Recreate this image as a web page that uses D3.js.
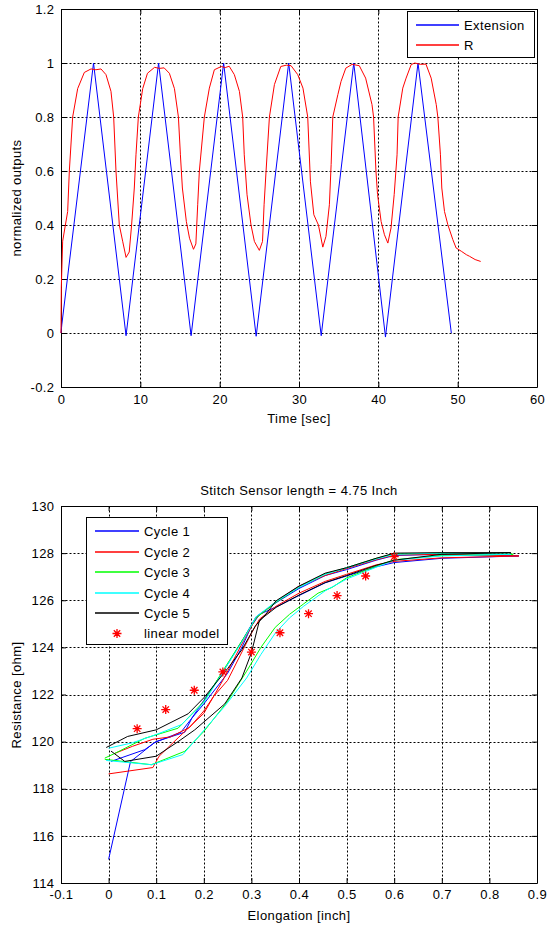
<!DOCTYPE html>
<html><head><meta charset="utf-8">
<script src="https://cdn.jsdelivr.net/npm/d3@7"></script>
<style>
body{margin:0;background:#fff;}
svg text{font-family:"Liberation Sans",Arial,Helvetica,sans-serif;font-size:13px;letter-spacing:0.4px;fill:#000;}
</style></head><body>
<svg id="c" width="548" height="926"></svg>
<script>
// ---------- DATA ----------
const timeTicks = [0,10,20,30,40,50,60];
const timeTickLabels = ["0","10","20","30","40","50","60"];
const normTicks = [-0.2,0,0.2,0.4,0.6,0.8,1,1.2];
const normTickLabels = ["-0.2","0","0.2","0.4","0.6","0.8","1","1.2"];
const extension = [[0,0],[0.1,0.03],[4.1,1],[8.2,-0.01],[12.3,1],[16.4,-0.01],[20.5,1],[24.6,-0.012],[28.7,1],[32.8,-0.01],[36.9,1],[40.9,-0.015],[45.0,1],[49.2,0]];
const resistanceNorm = [[0,0],[0.04,0.17],[0.21,0.34],[0.84,0.45],[1.05,0.6],[1.47,0.8],[2.1,0.905],[2.94,0.965],[3.78,0.978],[4.4,0.975],[5.04,0.978],[5.67,0.957],[6.3,0.895],[6.64,0.8],[6.93,0.6],[7.35,0.4],[7.77,0.34],[8.2,0.28],[8.6,0.3],[8.9,0.4],[9.24,0.537],[9.45,0.66],[9.75,0.8],[10.3,0.905],[10.9,0.962],[11.8,0.984],[12.4,0.98],[13.0,0.982],[13.66,0.962],[14.3,0.905],[14.8,0.8],[15.05,0.66],[15.3,0.537],[15.8,0.413],[16.2,0.351],[16.7,0.31],[17.0,0.33],[17.23,0.475],[17.44,0.6],[18.07,0.8],[18.7,0.907],[19.33,0.975],[20.2,0.987],[20.7,0.983],[21.2,0.988],[21.85,0.957],[22.49,0.895],[22.9,0.8],[23.1,0.66],[23.45,0.512],[23.95,0.4],[24.38,0.339],[25.0,0.306],[25.4,0.339],[25.6,0.475],[25.85,0.6],[26.27,0.8],[26.9,0.92],[27.7,0.987],[28.4,0.992],[29.0,0.99],[29.84,0.957],[30.5,0.907],[31.1,0.8],[31.44,0.56],[31.87,0.438],[32.45,0.4],[33.0,0.318],[33.4,0.358],[33.83,0.475],[34.05,0.624],[34.26,0.8],[34.9,0.883],[35.3,0.932],[35.9,0.981],[36.7,0.995],[37.6,0.99],[38.4,0.944],[39.2,0.846],[39.4,0.8],[39.7,0.6],[39.9,0.513],[40.35,0.413],[40.77,0.364],[41.2,0.333],[41.6,0.389],[42.0,0.513],[42.36,0.66],[42.5,0.8],[43.08,0.907],[43.5,0.944],[44.14,0.994],[44.6,1.0],[45.3,0.995],[46.0,0.996],[46.66,0.944],[47.3,0.846],[47.5,0.8],[47.83,0.66],[48.0,0.537],[48.34,0.45],[48.76,0.401],[49.39,0.346],[49.8,0.315],[50.5,0.302],[51.1,0.29],[51.5,0.284],[52.2,0.272],[52.9,0.265]];
const topSeriesNames = ["Extension","R"];
const topSeriesColors = ["#0000ff","#ff0000"];

const elongTicks = [-0.1,0,0.1,0.2,0.3,0.4,0.5,0.6,0.7,0.8,0.9];
const elongTickLabels = ["-0.1","0","0.1","0.2","0.3","0.4","0.5","0.6","0.7","0.8","0.9"];
const resTicks = [114,116,118,120,122,124,126,128,130];
const resTickLabels = ["114","116","118","120","122","124","126","128","130"];
const cycle1 = [[0,115.0],[0.046,119.15],[0.097,119.97],[0.152,120.4],[0.175,121.0],[0.2,121.75],[0.24,122.95],[0.284,124.4],[0.31,125.3],[0.352,125.9],[0.4,126.5],[0.455,127.05],[0.5,127.3],[0.562,127.7],[0.6,127.9],[0.7,127.95],[0.862,127.88],[0.7,127.78],[0.6,127.6],[0.562,127.42],[0.5,127.03],[0.455,126.74],[0.4,126.2],[0.352,125.72],[0.317,125.4],[0.3,124.9],[0.28,124.0],[0.25,122.9],[0.2,121.6],[0.175,121.0],[0.16,120.4],[0.1,120.0],[0.076,119.66],[0.005,119.16]];
const cycle2 = [[0,118.63],[0.093,118.9],[0.106,119.38],[0.146,120.16],[0.2,121.2],[0.24,122.6],[0.284,124.3],[0.31,125.25],[0.352,125.95],[0.4,126.6],[0.455,127.05],[0.5,127.35],[0.562,127.72],[0.6,127.92],[0.7,127.95],[0.862,127.88],[0.7,127.8],[0.6,127.65],[0.562,127.5],[0.5,127.1],[0.455,126.8],[0.4,126.3],[0.352,125.75],[0.317,125.2],[0.3,124.6],[0.28,123.8],[0.25,122.6],[0.22,121.9],[0.2,121.3],[0.17,120.6],[0.13,120.2],[0.093,120.1],[0.05,119.8],[0.013,119.5]];
const cycle3 = [[-0.008,119.25],[0.09,119.02],[0.16,119.59],[0.2,120.43],[0.25,121.71],[0.29,122.99],[0.32,124.0],[0.35,124.85],[0.38,125.4],[0.41,125.85],[0.44,126.3],[0.47,126.55],[0.5,126.95],[0.562,127.45],[0.6,127.72],[0.7,127.9],[0.85,127.95],[0.7,128.0],[0.6,127.97],[0.562,127.78],[0.5,127.38],[0.455,127.12],[0.4,126.55],[0.352,125.92],[0.31,125.25],[0.284,124.4],[0.24,123.0],[0.2,121.7],[0.146,120.57],[0.076,120.14],[0.013,119.5],[-0.008,119.3]];
const cycle4 = [[-0.005,119.2],[0.09,119.02],[0.156,119.45],[0.207,120.64],[0.244,121.5],[0.29,122.7],[0.32,123.7],[0.35,124.6],[0.38,125.25],[0.41,125.75],[0.455,126.4],[0.5,126.9],[0.562,127.4],[0.6,127.7],[0.7,127.88],[0.845,127.95],[0.7,128.0],[0.6,127.95],[0.562,127.75],[0.5,127.38],[0.455,127.1],[0.4,126.55],[0.352,125.95],[0.31,125.3],[0.284,124.35],[0.24,122.95],[0.2,121.65],[0.153,120.72],[0.1,120.3],[0.05,119.95],[0.0,119.72]];
const cycle5 = [[-0.005,119.75],[0.04,120.22],[0.1,120.5],[0.167,121.18],[0.2,121.86],[0.25,123.1],[0.28,123.9],[0.308,124.9],[0.33,125.4],[0.352,125.98],[0.4,126.6],[0.455,127.15],[0.5,127.38],[0.562,127.78],[0.6,128.0],[0.7,128.02],[0.845,128.02],[0.7,127.95],[0.6,127.7],[0.562,127.48],[0.5,127.05],[0.455,126.75],[0.4,126.22],[0.352,125.7],[0.317,125.15],[0.3,123.77],[0.28,122.7],[0.244,121.6],[0.181,120.5],[0.146,120.0],[0.1,119.38],[0.034,119.16],[0.005,119.6]];
const cycleNames = ["Cycle 1","Cycle 2","Cycle 3","Cycle 4","Cycle 5"];
const cycleColors = ["#0000ff","#ff0000","#00ff00","#00ffff","#000000"];
const linearE = [0.06,0.12,0.18,0.24,0.30,0.36,0.42,0.48,0.54,0.60];
const linearR = [120.55,121.36,122.18,122.96,123.8,124.62,125.43,126.2,127.03,127.85];

// ---------- DRAW ----------
const svg = d3.select("#c");
const GRID_DASH = "2,2";

function panel(x, y, xTicks, xLabels, yTicks, yLabels, xPad) {
  const g = svg.append("g");
  const [x0, x1] = x.range(), [y0, y1] = y.range();
  const grid = g.append("g").attr("stroke", "#000").attr("stroke-width", 1).attr("stroke-dasharray", GRID_DASH).attr("fill","none");
  xTicks.slice(1, -1).forEach(v => {
    const px = Math.round(x(v)) + 0.5;
    grid.append("line").attr("x1", px).attr("x2", px).attr("y1", y1 + 0.5).attr("y2", y0 + 0.5);
  });
  yTicks.slice(1, -1).forEach(v => {
    const py = Math.round(y(v)) + 0.5;
    grid.append("line").attr("x1", x0 + 0.5).attr("x2", x1 + 0.5).attr("y1", py).attr("y2", py);
  });
  g.append("g").attr("transform", `translate(0,${y0})`)
    .call(d3.axisBottom(x).tickValues(xTicks).tickFormat((d, i) => xLabels[i]).tickSizeInner(-5).tickSizeOuter(0).tickPadding(xPad));
  g.append("g").attr("transform", `translate(0,${y1})`)
    .call(d3.axisTop(x).tickValues(xTicks).tickFormat("").tickSizeInner(-5).tickSizeOuter(0));
  g.append("g").attr("transform", `translate(${x0},0)`)
    .call(d3.axisLeft(y).tickValues(yTicks).tickFormat((d, i) => yLabels[i]).tickSizeInner(-5).tickSizeOuter(0).tickPadding(6.5));
  g.append("g").attr("transform", `translate(${x1},0)`)
    .call(d3.axisRight(y).tickValues(yTicks).tickFormat("").tickSizeInner(-5).tickSizeOuter(0));
  g.selectAll(".domain").attr("stroke", "#000");
  return g;
}

// Top panel
const xT = d3.scaleLinear([0, 60], [61, 537]);
const yT = d3.scaleLinear([-0.2, 1.2], [387, 9]);
panel(xT, yT, timeTicks, timeTickLabels, normTicks, normTickLabels, 8);
const lineT = d3.line().x(d => xT(d[0])).y(d => yT(d[1]));
[extension, resistanceNorm].forEach((s, i) => {
  svg.append("path").attr("d", lineT(s)).attr("fill", "none").attr("stroke", topSeriesColors[i]).attr("stroke-width", 1);
});
svg.append("text").attr("x", 299).attr("y", 423).attr("text-anchor", "middle").text("Time [sec]");
svg.append("text").attr("transform", "translate(21,198) rotate(-90)").attr("text-anchor", "middle").text("normalized outputs");
const lgT = svg.append("g");
lgT.append("rect").attr("x", 407.5).attr("y", 11.5).attr("width", 127).attr("height", 46).attr("fill", "#fff").attr("stroke", "#000");
topSeriesNames.forEach((n, i) => {
  const cy = 25 + i * 20;
  lgT.append("line").attr("x1", 416).attr("x2", 459).attr("y1", cy).attr("y2", cy).attr("stroke", topSeriesColors[i]).attr("stroke-width", 1.6);
  lgT.append("text").attr("x", 464).attr("y", cy + 4.5).text(n);
});

// Bottom panel
const xB = d3.scaleLinear([-0.1, 0.9], [61, 537]);
const yB = d3.scaleLinear([114, 130], [883, 506]);
panel(xB, yB, elongTicks, elongTickLabels, resTicks, resTickLabels, 7);
const lineB = d3.line().x(d => xB(d[0])).y(d => yB(d[1]));
[cycle1, cycle2, cycle3, cycle4, cycle5].forEach((c, i) => {
  svg.append("path").attr("d", lineB(c)).attr("fill", "none").attr("stroke", cycleColors[i]).attr("stroke-width", 1);
});
function star(sel, cx, cy) {
  const p = d3.path();
  p.moveTo(cx - 4.5, cy); p.lineTo(cx + 4.5, cy);
  p.moveTo(cx, cy - 4.5); p.lineTo(cx, cy + 4.5);
  p.moveTo(cx - 3.2, cy - 3.2); p.lineTo(cx + 3.2, cy + 3.2);
  p.moveTo(cx - 3.2, cy + 3.2); p.lineTo(cx + 3.2, cy - 3.2);
  sel.append("path").attr("d", p.toString()).attr("stroke", "#ff0000").attr("stroke-width", 1.3).attr("fill", "none");
}
const stars = svg.append("g");
linearE.forEach((e, i) => star(stars, xB(e), yB(linearR[i])));
svg.append("text").attr("x", 299).attr("y", 495).attr("text-anchor", "middle").text("Stitch Sensor length = 4.75 Inch");
svg.append("text").attr("x", 299).attr("y", 920).attr("text-anchor", "middle").text("Elongation [inch]");
svg.append("text").attr("transform", "translate(21,695) rotate(-90)").attr("text-anchor", "middle").text("Resistance [ohm]");
const lgB = svg.append("g");
lgB.append("rect").attr("x", 86.5).attr("y", 517.5).attr("width", 141).attr("height", 127).attr("fill", "#fff").attr("stroke", "#000");
cycleNames.forEach((n, i) => {
  const cy = Math.round(531 + i * 20.5);
  lgB.append("line").attr("x1", 95).attr("x2", 139).attr("y1", cy).attr("y2", cy).attr("stroke", cycleColors[i]).attr("stroke-width", 1.6);
  lgB.append("text").attr("x", 144).attr("y", cy + 4.5).text(n);
});
star(lgB, 117, 633.5);
lgB.append("text").attr("x", 144).attr("y", 638).text("linear model");
</script>
</body></html>
